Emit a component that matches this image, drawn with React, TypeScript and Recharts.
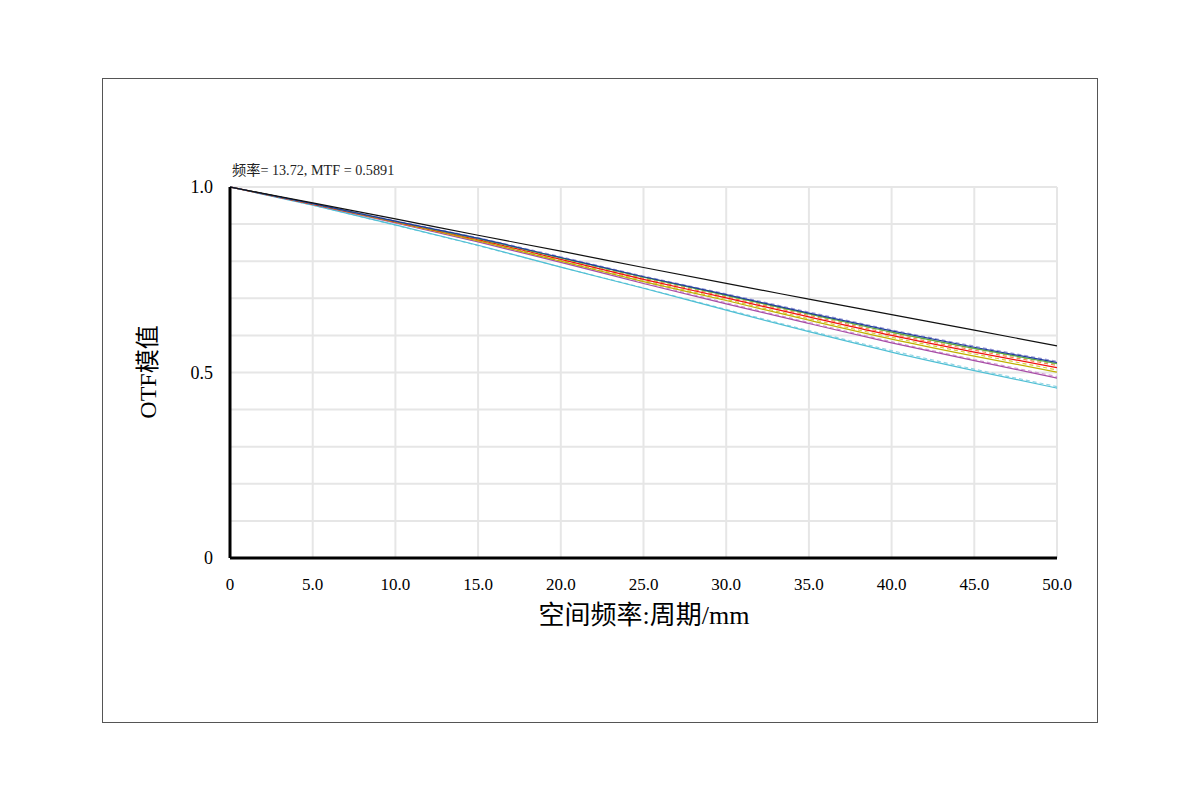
import { LineChart, Line, XAxis, YAxis, CartesianGrid } from "recharts";

// spatial frequency, cycles/mm
const freq = [0, 5, 10, 15, 20, 25, 30, 35, 40, 45, 50];

const diffLimit = [1, 0.957, 0.914, 0.87, 0.827, 0.783, 0.74, 0.698, 0.656, 0.614, 0.572];
const f1T = [1, 0.955, 0.908, 0.862, 0.81, 0.758, 0.71, 0.66, 0.612, 0.568, 0.527];
const f1S = [1, 0.955, 0.909, 0.863, 0.812, 0.76, 0.712, 0.663, 0.615, 0.571, 0.53];
const f2T = [1, 0.955, 0.907, 0.861, 0.809, 0.757, 0.708, 0.658, 0.609, 0.565, 0.524];
const f2S = [1, 0.955, 0.907, 0.86, 0.808, 0.756, 0.707, 0.657, 0.608, 0.564, 0.522];
const f3T = [1, 0.954, 0.906, 0.858, 0.805, 0.751, 0.701, 0.65, 0.6, 0.555, 0.513];
const f3S = [1, 0.954, 0.907, 0.859, 0.807, 0.754, 0.704, 0.654, 0.604, 0.56, 0.519];
const f4T = [1, 0.954, 0.905, 0.855, 0.8, 0.745, 0.694, 0.641, 0.59, 0.544, 0.501];
const f4S = [1, 0.954, 0.905, 0.856, 0.802, 0.748, 0.697, 0.645, 0.595, 0.55, 0.507];
const f5T = [1, 0.953, 0.903, 0.852, 0.797, 0.74, 0.685, 0.632, 0.58, 0.532, 0.485];
const f5S = [1, 0.953, 0.904, 0.853, 0.799, 0.743, 0.688, 0.635, 0.583, 0.535, 0.489];
const f6T = [1, 0.951, 0.898, 0.843, 0.784, 0.727, 0.668, 0.61, 0.555, 0.505, 0.458];
const f6S = [1, 0.951, 0.897, 0.842, 0.784, 0.728, 0.67, 0.613, 0.559, 0.509, 0.462];

const xTicks = [0, 5, 10, 15, 20, 25, 30, 35, 40, 45, 50];
const yTicks = [0, 0.1, 0.2, 0.3, 0.4, 0.5, 0.6, 0.7, 0.8, 0.9, 1];

const series = [
  { key: "f6S", values: f6S, color: "#8fd4e4", dash: "4 3" },
  { key: "f6T", values: f6T, color: "#4fbfd4", dash: undefined },
  { key: "f5S", values: f5S, color: "#d49ad4", dash: "4 3" },
  { key: "f5T", values: f5T, color: "#a64ca6", dash: undefined },
  { key: "f4S", values: f4S, color: "#d8cc40", dash: "4 3" },
  { key: "f4T", values: f4T, color: "#bfb000", dash: undefined },
  { key: "f3S", values: f3S, color: "#ff8050", dash: "4 3" },
  { key: "f3T", values: f3T, color: "#f01010", dash: undefined },
  { key: "f2S", values: f2S, color: "#9ccc70", dash: "4 3" },
  { key: "f2T", values: f2T, color: "#5ca838", dash: undefined },
  { key: "f1S", values: f1S, color: "#9a9ad8", dash: "4 3" },
  { key: "f1T", values: f1T, color: "#1f3c9c", dash: undefined },
  { key: "diff", values: diffLimit, color: "#111111", dash: undefined },
];

const rows = freq.map((f, i) => {
  const row: Record<string, number> = { f };
  series.forEach((s) => {
    row[s.key] = s.values[i];
  });
  return row;
});

const serif = "'Liberation Serif', 'Noto Sans CJK SC', serif";

function yLabel(v: number) {
  if (v === 0) return "0";
  if (v === 0.5) return "0.5";
  if (v === 1) return "1.0";
  return "";
}

export default function App() {
  return (
    <div style={{ position: "fixed", left: 0, top: 0, width: 1200, height: 800, background: "#fff" }}>
      <div
        style={{
          position: "absolute",
          left: 102,
          top: 78,
          width: 994,
          height: 643,
          border: "1px solid #555",
        }}
      />
      <div style={{ position: "absolute", left: 0, top: 0 }}>
        <LineChart width={1200} height={800} data={rows} margin={{ top: 187, right: 143, bottom: 212, left: 170 }}>
          <CartesianGrid stroke="#e6e6e6" strokeWidth={2} vertical horizontal />
          <XAxis
            dataKey="f"
            type="number"
            domain={[0, 50]}
            ticks={xTicks}
            height={30}
            tickFormatter={(v: number) => (v === 0 ? "0" : v.toFixed(1))}
            axisLine={{ stroke: "#000", strokeWidth: 3 }}
            tickLine={false}
            tickMargin={14}
            tick={{ fontSize: 17, fill: "#000", fontFamily: serif }}
          />
          <YAxis
            type="number"
            domain={[0, 1]}
            ticks={yTicks}
            tickFormatter={yLabel}
            axisLine={{ stroke: "#000", strokeWidth: 3 }}
            tickLine={false}
            tickMargin={11}
            width={60}
            interval={0}
            tick={{ fontSize: 18, fill: "#000", fontFamily: serif }}
          />
          {series.map((s) => (
            <Line
              key={s.key}
              dataKey={s.key}
              stroke={s.color}
              strokeWidth={1.2}
              strokeDasharray={s.dash}
              dot={false}
              type="monotone"
              isAnimationActive={false}
            />
          ))}
        </LineChart>
      </div>
      <div
        style={{
          position: "absolute",
          left: 232,
          top: 159,
          fontSize: 14.2,
          fontFamily: serif,
          color: "#222",
          whiteSpace: "nowrap",
        }}
      >
        频率= 13.72, MTF = 0.5891
      </div>
      <div
        style={{
          position: "absolute",
          left: 145,
          top: 372,
          transform: "translate(-50%, -50%) rotate(-90deg)",
          fontSize: 24,
          fontFamily: serif,
          color: "#000",
          whiteSpace: "nowrap",
        }}
      >
        OTF模值
      </div>
      <div
        style={{
          position: "absolute",
          left: 644,
          top: 612,
          transform: "translate(-50%, -50%)",
          fontSize: 26,
          fontFamily: serif,
          color: "#000",
          whiteSpace: "nowrap",
        }}
      >
        空间频率:周期/mm
      </div>
    </div>
  );
}
